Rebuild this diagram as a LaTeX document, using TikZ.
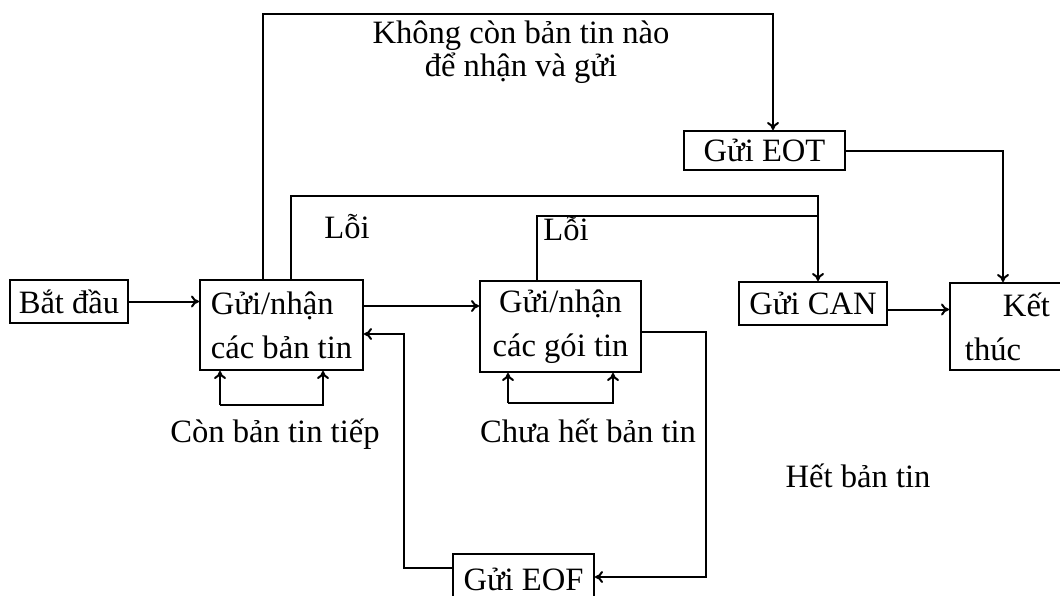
\documentclass[tikz,border=0pt]{standalone}
\usepackage{fontspec}
\setmainfont{Liberation Serif}
\usetikzlibrary{arrows.meta,calc}
\begin{document}
\begin{tikzpicture}[x=0.5pt,y=-0.5pt,
  box/.style={draw,line width=1pt,inner sep=0pt,font=\fontsize{16.3}{22}\selectfont},
  lbl/.style={inner sep=0pt,font=\fontsize{16.3}{19}\selectfont},
  conn/.style={line width=1pt},
  arr/.style={conn,-{To[length=4pt,width=6pt]}},
]
\useasboundingbox (0,0) rectangle (1060,595);
\clip (0,0) rectangle (1060,595);

% boxes
\node[box,minimum width=59pt,minimum height=21.5pt] (start) at (69,301.5) {Bắt đầu};
\node[box,minimum width=81.5pt,minimum height=45pt,align=left] (msg) at (281.5,325) {Gửi/nhận\\các bản tin};
\node[box,minimum width=80.5pt,minimum height=45.5pt,align=center] (pkt) at (560.5,326.5) {Gửi/nhận\\các gói tin};
\node[box,minimum width=80.5pt,minimum height=19.5pt] (eot) at (764.5,150.5) {Gửi EOT};
\node[box,minimum width=74pt,minimum height=21.5pt] (can) at (813,303.5) {Gửi CAN};
\node[box,minimum width=57.5pt,minimum height=43.5pt,align=left] (end) at (1007.5,326.5) {\hspace*{19pt}Kết\\thúc};
\node[box,minimum width=70.5pt,minimum height=25.5pt] (eof) at (523.5,579.5) {Gửi EOF};

% start -> messages
\draw[arr] (start.east) -- (start.east -| msg.west);
% messages -> packets
\draw[arr] ($(msg.east)+(0,-19)$) coordinate (a1) -- (a1 -| pkt.west);

% loop under messages
\coordinate (m1) at (220,405);
\coordinate (m2) at (323,405);
\draw[arr] (m1) -- (m1 |- msg.south);
\draw[arr] (m1) -- (m2) -- (m2 |- msg.south);
\node[lbl,anchor=base] (l1) at (275,442) {Còn bản tin tiếp};

% loop under packets
\coordinate (p1) at (508,403);
\coordinate (p2) at (613,403);
\draw[arr] (p1) -- (p1 |- pkt.south);
\draw[arr] (p1) -- (p2) -- (p2 |- pkt.south);
\node[lbl,anchor=base] (l2) at (588,442) {Chưa hết bản tin};

% packets -> EOF
\coordinate (r1) at (706,332);
\coordinate (r2) at (706,577);
\draw[arr] (pkt.east |- r1) -- (r1) -- (r2) -- (r2 -| eof.east);
\node[lbl,anchor=base] (l6) at (858,487) {Hết bản tin};

% EOF -> messages
\coordinate (b1) at (404,568);
\coordinate (b2) at (404,334);
\draw[arr] (eof.west |- b1) -- (b1) -- (b2) -- (b2 -| msg.east);

% top: no more messages -> EOT
\coordinate (t1) at (263,14);
\coordinate (t2) at (773,14);
\draw[arr] (t1 |- msg.north) -- (t1) -- (t2) -- (t2 |- eot.north);
\node[lbl,align=center] (l3) at (521,52) {Không còn bản tin nào\\[-2.5pt]để nhận và gửi};

% errors -> CAN
\coordinate (e1) at (291,196);
\coordinate (e2) at (818,196);
\draw[arr] (e1 |- msg.north) -- (e1) -- (e2) -- (e2 |- can.north);
\coordinate (e3) at (537,216);
\draw[conn] (e3 |- pkt.north) -- (e3) -- (e3 -| e2);
\node[lbl,anchor=base] (l4) at (347,238) {Lỗi};
\node[lbl,anchor=base] (l5) at (566,240) {Lỗi};

% EOT -> end
\coordinate (k1) at (1003,150.5);
\draw[arr] (eot.east) -- (k1) -- (k1 |- end.north);
% CAN -> end
\draw[arr] ($(can.east)+(0,6)$) coordinate (c1) -- (c1 -| end.west);
\end{tikzpicture}
\end{document}
